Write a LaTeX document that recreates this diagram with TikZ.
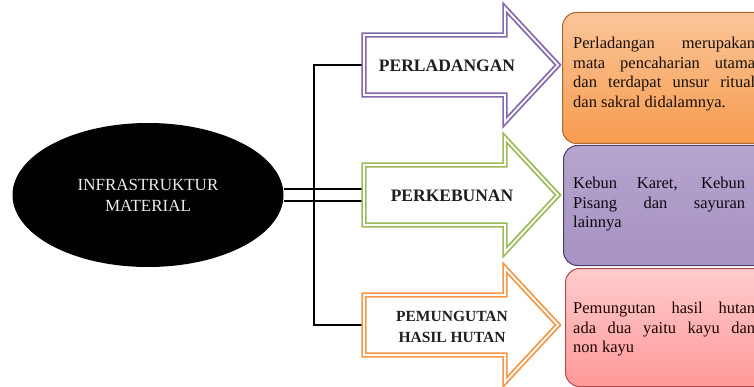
\documentclass[tikz,border=0pt]{standalone}
\usepackage{fontspec}
\setmainfont{Liberation Serif}
\usetikzlibrary{shapes.geometric}

\definecolor{purp}{HTML}{8468AC}
\definecolor{grn}{HTML}{9BBB59}
\definecolor{orng}{HTML}{F79646}

\begin{document}
\begin{tikzpicture}[x=1pt, y=-1pt,
  trunk/.style={line width=2.8pt},
  twin/.style={line width=1.5pt, double=white, double distance=10.5pt},
  bigarrow/.style={fill=white, line width=1.8pt, double=white, double distance=1.8pt, line join=miter},
  lbl/.style={font=\fontsize{17.5}{21}\selectfont\bfseries, text=black!88, align=center, inner sep=0},
  card/.style={rounded corners=14pt, line width=1pt, minimum width=220, inner sep=0, anchor=north west},
  note/.style={font=\fontsize{16.5}{19.7}\selectfont, align=justify, inner sep=0, anchor=north west}]
\useasboundingbox (0,0) rectangle (754,387);
\begin{scope}
\clip (0,0) rectangle (754,387);

% main ellipse
\node (root) [ellipse, fill=black, minimum width=271, minimum height=144, inner sep=0,
  text=white!92!black, align=center, font=\fontsize{17}{21}\selectfont] at (148,195) {INFRASTRUKTUR\\MATERIAL};

% connectors
\coordinate (bus) at (314,195);
\coordinate (ladang) at (364,65);
\coordinate (kebun) at (364,195);
\coordinate (hutan) at (364,325);
\draw[twin] (root.east) -- (kebun);
\draw[trunk] (ladang) -| (bus) |- (hutan);

% arrows
\foreach \c/\y in {purp/65, grn/195, orng/325} {
  \draw[bigarrow, draw=\c] (364,\y-30) -- (505,\y-30) -- (505,\y-57) -- (558,\y)
    -- (505,\y+57) -- (505,\y+30) -- (364,\y+30) -- cycle;
}
\node (l1) [lbl] at (447,66) {PERLADANGAN};
\node (l2) [lbl] at (452,196) {PERKEBUNAN};
\node (l3) [lbl, font=\fontsize{15.5}{21}\selectfont\bfseries] at (452,327) {PEMUNGUTAN\\HASIL HUTAN};

% description cards
\node (card1) [card, minimum height=131, draw=orng!70!black, top color=orng!55, bottom color=orng!95] at (562,12) {};
\node (card2) [card, minimum height=120, draw=purp!60!black, top color=purp!60, middle color=purp!95, bottom color=purp!72] at (563,145) {};
\node (card3) [card, minimum height=118, draw=red!40!gray, top color=red!20, bottom color=red!40] at (565,268) {};

\node (note1) [note, text width=182, text=black!88!brown] at (573,36.7)
  {Perladangan merupakan\linebreak mata pencaharian utama\linebreak dan terdapat unsur ritual\linebreak dan sakral didalamnya.};
\node (note2) [note, text width=172, text=black!92!purp] at (573,176.7)
  {Kebun Karet, Kebun\linebreak Pisang dan sayuran\linebreak lainnya};
\node (note3) [note, text width=182, text=black!88!red] at (573,301.7)
  {Pemungutan hasil hutan\linebreak ada dua yaitu kayu dan\linebreak non kayu};
\end{scope}
\end{tikzpicture}
\end{document}
